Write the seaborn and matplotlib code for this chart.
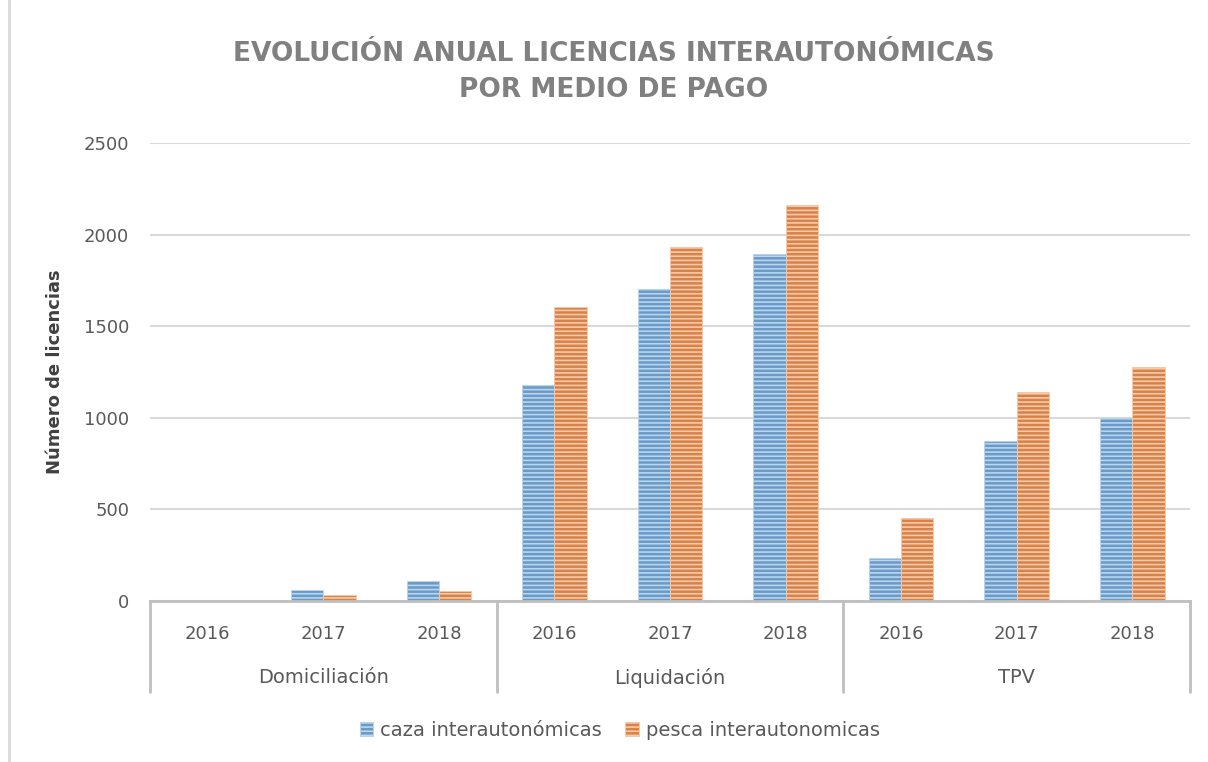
import pandas as pd
import seaborn as sns
import matplotlib.pyplot as plt
from matplotlib.lines import Line2D
import matplotlib.transforms as mtransforms

# Datos
medios = ['Domiciliación', 'Liquidación', 'TPV']
anios = ['2016', '2017', '2018']
series = ['caza interautonómicas', 'pesca interautonomicas']
caza = [0, 60, 108, 1180, 1705, 1895, 235, 875, 1000]
pesca = [0, 33, 54, 1605, 1935, 2162, 452, 1140, 1277]

# Tabla larga para seaborn
claves = [m + ' ' + a for m in medios for a in anios]
df = pd.DataFrame({
    'cat': claves * 2,
    'serie': [series[0]] * len(claves) + [series[1]] * len(claves),
    'valor': caza + pesca,
})

sns.set_style('white')
plt.rcParams['font.family'] = ['DejaVu Sans']
plt.rcParams['hatch.linewidth'] = 1.2

gris_txt = '#595959'
gris_lin = '#BFBFBF'

fig = plt.figure(figsize=(12.08, 7.62), dpi=100)
ax = fig.add_axes([150 / 1208, 1 - 601 / 762, 1040 / 1208, 458 / 762])

sns.barplot(
    data=df, x='cat', y='valor', hue='serie',
    order=claves, hue_order=series,
    palette={series[0]: '#5B9BD5', series[1]: '#ED7D31'},
    width=0.56, gap=0, legend=False, ax=ax,
)

# rayado horizontal como en Excel
claros = ['#B9D5EF', '#F8C9A8']
for cont, claro in zip(ax.containers, claros):
    for p in cont:
        p.set_hatch('----')
        p.set_edgecolor(claro)
        p.set_linewidth(0.6)

ax.set_xlim(-0.5, len(claves) - 0.5)
ax.set_ylim(0, 2500)
ax.set_yticks(range(0, 2501, 500))
ax.yaxis.grid(True, color='#D9D9D9', linewidth=1.5)
ax.set_axisbelow(True)
for s in ['top', 'right', 'left']:
    ax.spines[s].set_visible(False)
ax.spines['bottom'].set_color(gris_lin)
ax.spines['bottom'].set_linewidth(2)

ax.set_xticks(range(len(claves)))
ax.set_xticklabels(anios * len(medios))
ax.tick_params(axis='x', length=0, pad=17, labelsize=13, labelcolor=gris_txt)
ax.tick_params(axis='y', length=0, pad=15, labelsize=13, labelcolor=gris_txt)
ax.set_xlabel('')
ax.set_ylabel('Número de licencias', fontsize=13, fontweight='bold', color='#404040')
ax.yaxis.set_label_coords(-0.083, 0.5)

# eje de categorias en dos niveles
trans = mtransforms.blended_transform_factory(ax.transData, ax.transAxes)
for x in [-0.5, 2.5, 5.5, 8.5]:
    ax.plot([x, x], [0, -0.199], transform=trans, color=gris_lin, lw=2, clip_on=False)
for i, m in enumerate(medios):
    ax.text(3 * i + 1, -0.168, m, transform=trans, ha='center', va='center',
            fontsize=14, color=gris_txt)

# titulo
fig.text(0.508, 1 - 72 / 762,
         'EVOLUCIÓN ANUAL LICENCIAS INTERAUTONÓMICAS\nPOR MEDIO DE PAGO',
         ha='center', va='center', fontsize=19, fontweight='bold',
         color='#808080', linespacing=1.5)

# leyenda
fig.legend(ax.containers, series, loc='center', bbox_to_anchor=(0.513, 1 - 730 / 762),
           ncol=2, frameon=False, fontsize=14, labelcolor=gris_txt,
           handlelength=0.7, handleheight=0.7, handletextpad=0.35, columnspacing=1.2)

# borde izquierdo del area de grafico
fig.add_artist(Line2D([9 / 1208, 9 / 1208], [0, 1], transform=fig.transFigure,
                      color='#D9D9D9', lw=2))

fig.savefig('out.png', dpi=100)
